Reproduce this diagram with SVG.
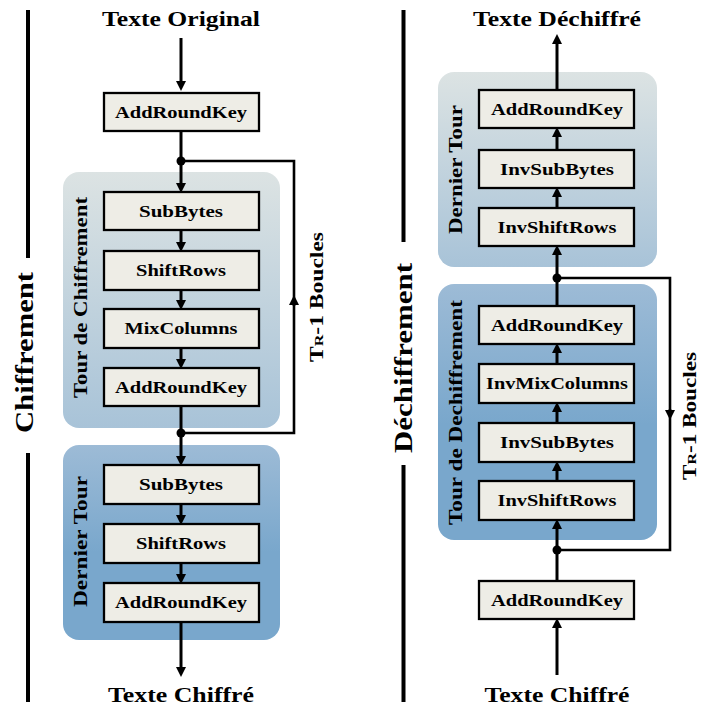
<svg xmlns="http://www.w3.org/2000/svg" width="701" height="709" viewBox="0 0 701 709">
  <defs>
    <linearGradient id="roundShade" x1="0" y1="0" x2="0" y2="1">
      <stop offset="0" stop-color="#DCE3E3"/>
      <stop offset="1" stop-color="#A8C3D8"/>
    </linearGradient>
    <linearGradient id="finalShade" x1="0" y1="0" x2="0" y2="1">
      <stop offset="0" stop-color="#9DBBD6"/>
      <stop offset="0.55" stop-color="#79A7CC"/>
      <stop offset="1" stop-color="#79A7CC"/>
    </linearGradient>
    <marker id="head" viewBox="0 0 10 10" refX="0" refY="5" markerWidth="10" markerHeight="10" markerUnits="userSpaceOnUse" orient="auto">
      <path d="M0,0 L10,5 L0,10 Z" fill="#000"/>
    </marker>
    <style>
      .box { fill: #EEEDE6; stroke: #000; stroke-width: 2.3; }
      .lbl { font-family: "Liberation Serif", "Times New Roman", serif; font-weight: bold; font-size: 17px; text-anchor: middle; fill: #000; }
      .title { font-family: "Liberation Serif", "Times New Roman", serif; font-weight: bold; font-size: 21px; text-anchor: middle; fill: #000; }
      .side { font-family: "Liberation Serif", "Times New Roman", serif; font-weight: bold; font-size: 26px; text-anchor: middle; fill: #000; }
      .panel-lbl { font-family: "Liberation Serif", "Times New Roman", serif; font-weight: bold; font-size: 19px; text-anchor: middle; fill: #000; }
      .flow { fill: none; stroke: #000; stroke-width: 3; }
      .loop { fill: none; stroke: #000; stroke-width: 2.6; stroke-linejoin: miter; }
      .arrow { marker-end: url(#head); }
      .rule { stroke: #000; stroke-width: 4; }
      .dot { fill: #000; }
    </style>
  </defs>

  <!-- side rules with section headings -->
  <g id="section-chiffrement">
    <line class="rule" x1="28" y1="10" x2="28" y2="258"/>
    <line class="rule" x1="28" y1="453" x2="28" y2="702"/>
    <text class="side" transform="translate(33,352.5) rotate(-90)" textLength="161" lengthAdjust="spacingAndGlyphs">Chiffrement</text>
  </g>
  <g id="section-dechiffrement">
    <line class="rule" x1="403.5" y1="10" x2="403.5" y2="242"/>
    <line class="rule" x1="403.5" y1="465" x2="403.5" y2="702"/>
    <text class="side" transform="translate(412,358) rotate(-90)" textLength="190" lengthAdjust="spacingAndGlyphs">Déchiffrement</text>
  </g>

  <!-- round panels -->
  <g id="panel-tour-chiffrement">
    <rect x="63" y="172" width="217" height="256" rx="16" fill="url(#roundShade)"/>
    <text class="panel-lbl" transform="translate(87,297.5) rotate(-90)" textLength="201" lengthAdjust="spacingAndGlyphs">Tour de Chiffrement</text>
  </g>
  <g id="panel-dernier-tour-chiffrement">
    <rect x="63" y="445" width="217" height="195" rx="16" fill="url(#finalShade)"/>
    <text class="panel-lbl" transform="translate(87,541.5) rotate(-90)" textLength="131" lengthAdjust="spacingAndGlyphs">Dernier Tour</text>
  </g>
  <g id="panel-dernier-tour-dechiffrement">
    <rect x="438" y="72" width="219" height="195" rx="16" fill="url(#roundShade)"/>
    <text class="panel-lbl" transform="translate(462,169.5) rotate(-90)" textLength="129" lengthAdjust="spacingAndGlyphs">Dernier Tour</text>
  </g>
  <g id="panel-tour-dechiffrement">
    <rect x="438" y="284" width="219" height="256" rx="16" fill="url(#finalShade)"/>
    <text class="panel-lbl" transform="translate(462,412.5) rotate(-90)" textLength="225" lengthAdjust="spacingAndGlyphs">Tour de Dechiffrement</text>
  </g>

  <!-- connectors -->
  <g id="connectors">
    <!-- encryption flow (downwards) -->
    <path class="flow arrow" d="M181,38 V81"/>
    <path class="flow arrow" d="M181,131 V183"/>
    <path class="flow arrow" d="M181,230 V242"/>
    <path class="flow arrow" d="M181,290 V300"/>
    <path class="flow arrow" d="M181,348 V359"/>
    <path class="flow arrow" d="M181,406 V456"/>
    <path class="flow arrow" d="M181,504 V515"/>
    <path class="flow arrow" d="M181,563 V574"/>
    <path class="flow arrow" d="M181,622 V667"/>
    <!-- encryption round loop -->
    <path class="loop arrow" d="M181,433 H294 V305"/>
    <path class="loop" d="M294,306 V161 H181"/>
    <circle class="dot" cx="181" cy="161" r="4.5"/>
    <circle class="dot" cx="181" cy="433" r="4.5"/>

    <!-- decryption flow (upwards) -->
    <path class="flow arrow" d="M557,675 V628"/>
    <path class="flow arrow" d="M557,581 V529"/>
    <path class="flow arrow" d="M557,481 V471"/>
    <path class="flow arrow" d="M557,423 V412"/>
    <path class="flow arrow" d="M557,364 V353"/>
    <path class="flow arrow" d="M557,306 V255"/>
    <path class="flow arrow" d="M557,208 V197"/>
    <path class="flow arrow" d="M557,150 V137"/>
    <path class="flow arrow" d="M557,90 V44"/>
    <!-- decryption round loop -->
    <path class="loop arrow" d="M557,278 H670 V410"/>
    <path class="loop" d="M670,409 V550 H557"/>
    <circle class="dot" cx="557" cy="278" r="4.5"/>
    <circle class="dot" cx="557" cy="550" r="4.5"/>

    <text class="panel-lbl" transform="translate(323,297) rotate(-90)" textLength="130" lengthAdjust="spacingAndGlyphs">T<tspan font-size="13">R</tspan>-1 Boucles</text>
    <text class="panel-lbl" transform="translate(696,416) rotate(-90)" textLength="128" lengthAdjust="spacingAndGlyphs">T<tspan font-size="13">R</tspan>-1 Boucles</text>
  </g>

  <!-- encryption nodes -->
  <g id="enc-input"><text class="title" x="181" y="26" textLength="158" lengthAdjust="spacingAndGlyphs">Texte Original</text></g>
  <g id="enc-addroundkey-0">
    <rect class="box" x="104" y="93" width="155" height="38"/>
    <text class="lbl" x="181" y="118" textLength="132" lengthAdjust="spacingAndGlyphs">AddRoundKey</text>
  </g>
  <g id="enc-subbytes">
    <rect class="box" x="104" y="192" width="155" height="38"/>
    <text class="lbl" x="181" y="217" textLength="84" lengthAdjust="spacingAndGlyphs">SubBytes</text>
  </g>
  <g id="enc-shiftrows">
    <rect class="box" x="104" y="251" width="155" height="39"/>
    <text class="lbl" x="181" y="276" textLength="90" lengthAdjust="spacingAndGlyphs">ShiftRows</text>
  </g>
  <g id="enc-mixcolumns">
    <rect class="box" x="104" y="309" width="155" height="39"/>
    <text class="lbl" x="181" y="334" textLength="113" lengthAdjust="spacingAndGlyphs">MixColumns</text>
  </g>
  <g id="enc-addroundkey">
    <rect class="box" x="104" y="368" width="155" height="38"/>
    <text class="lbl" x="181" y="393" textLength="132" lengthAdjust="spacingAndGlyphs">AddRoundKey</text>
  </g>
  <g id="enc-final-subbytes">
    <rect class="box" x="104" y="465" width="155" height="39"/>
    <text class="lbl" x="181" y="490" textLength="84" lengthAdjust="spacingAndGlyphs">SubBytes</text>
  </g>
  <g id="enc-final-shiftrows">
    <rect class="box" x="104" y="524" width="155" height="39"/>
    <text class="lbl" x="181" y="549" textLength="90" lengthAdjust="spacingAndGlyphs">ShiftRows</text>
  </g>
  <g id="enc-final-addroundkey">
    <rect class="box" x="104" y="583" width="155" height="39"/>
    <text class="lbl" x="181" y="608" textLength="132" lengthAdjust="spacingAndGlyphs">AddRoundKey</text>
  </g>
  <g id="enc-output"><text class="title" x="181" y="702" textLength="146" lengthAdjust="spacingAndGlyphs">Texte Chiffré</text></g>

  <!-- decryption nodes -->
  <g id="dec-output"><text class="title" x="557" y="26" textLength="168" lengthAdjust="spacingAndGlyphs">Texte Déchiffré</text></g>
  <g id="dec-final-addroundkey">
    <rect class="box" x="479" y="90" width="155" height="38"/>
    <text class="lbl" x="557" y="115" textLength="132" lengthAdjust="spacingAndGlyphs">AddRoundKey</text>
  </g>
  <g id="dec-final-invsubbytes">
    <rect class="box" x="479" y="150" width="155" height="38"/>
    <text class="lbl" x="557" y="175" textLength="114" lengthAdjust="spacingAndGlyphs">InvSubBytes</text>
  </g>
  <g id="dec-final-invshiftrows">
    <rect class="box" x="479" y="208" width="155" height="38"/>
    <text class="lbl" x="557" y="233" textLength="119" lengthAdjust="spacingAndGlyphs">InvShiftRows</text>
  </g>
  <g id="dec-addroundkey">
    <rect class="box" x="479" y="306" width="155" height="38"/>
    <text class="lbl" x="557" y="331" textLength="132" lengthAdjust="spacingAndGlyphs">AddRoundKey</text>
  </g>
  <g id="dec-invmixcolumns">
    <rect class="box" x="479" y="364" width="155" height="39"/>
    <text class="lbl" x="557" y="389" textLength="142" lengthAdjust="spacingAndGlyphs">InvMixColumns</text>
  </g>
  <g id="dec-invsubbytes">
    <rect class="box" x="479" y="423" width="155" height="39"/>
    <text class="lbl" x="557" y="448" textLength="114" lengthAdjust="spacingAndGlyphs">InvSubBytes</text>
  </g>
  <g id="dec-invshiftrows">
    <rect class="box" x="479" y="481" width="155" height="39"/>
    <text class="lbl" x="557" y="506" textLength="119" lengthAdjust="spacingAndGlyphs">InvShiftRows</text>
  </g>
  <g id="dec-addroundkey-0">
    <rect class="box" x="479" y="581" width="155" height="38"/>
    <text class="lbl" x="557" y="606" textLength="132" lengthAdjust="spacingAndGlyphs">AddRoundKey</text>
  </g>
  <g id="dec-input"><text class="title" x="557" y="702" textLength="145" lengthAdjust="spacingAndGlyphs">Texte Chiffré</text></g>
</svg>
